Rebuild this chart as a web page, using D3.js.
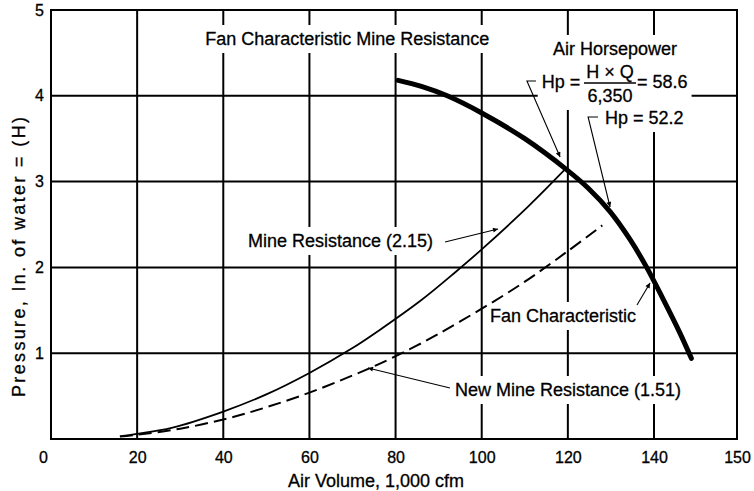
<!DOCTYPE html>
<html>
<head>
<meta charset="utf-8">
<script src="https://cdn.jsdelivr.net/npm/d3@7"></script>
<style>
  body { margin: 0; background: #fff; }
  svg text { font-family: "Liberation Sans", Arial, Helvetica, sans-serif; fill: #000; stroke: #000; stroke-width: 0.3px; }
</style>
</head>
<body>
<div class="chart"></div>
<script>
const width = 754;
const height = 491;

// air volume, 1,000 cfm / pressure, in. of water
const xTicks = [0, 20, 40, 60, 80, 100, 120, 140, 150];
const yTicks = [1, 2, 3, 4, 5];

const mineQ = [16, 20, 28, 40, 50, 60, 70, 76, 86, 94, 100, 111, 119.5];
const mineH = [0.03, 0.06, 0.13, 0.32, 0.52, 0.77, 1.06, 1.26, 1.62, 1.95, 2.21, 2.72, 3.15];

const newMineQ = [16, 20, 30, 41, 50, 60, 70, 76, 85, 95, 109, 120, 128];
const newMineH = [0.03, 0.05, 0.12, 0.24, 0.37, 0.54, 0.74, 0.87, 1.09, 1.37, 1.8, 2.19, 2.49];

const fanQ = [80.6, 86, 92, 100, 110, 119.7, 124.8, 129.8, 134.5, 138.3, 141.1, 143.1, 144.5];
const fanH = [4.18, 4.11, 4.0, 3.8, 3.5, 3.14, 2.92, 2.65, 2.32, 2.0, 1.63, 1.24, 0.94];

// labels, anchored in data units
const labels = [
  { text: "Fan Characteristic Mine Resistance", q: 35.8, h: 4.592 },
  { text: "Air Horsepower", q: 116.55, h: 4.476 },
  { text: "Hp = 52.2", q: 128.6, h: 3.671 },
  { text: "Mine Resistance (2.15)", q: 45.74, h: 2.238 },
  { text: "Fan Characteristic", q: 101.92, h: 1.364 },
  { text: "New Mine Resistance (1.51)", q: 93.8, h: 0.501 }
];

const leaders = [
  [[112.6, 4.172], [110.5, 4.172], [118.2, 3.287]],
  [[127.0, 3.753], [124.7, 3.753], [129.8, 2.704]],
  [[91.48, 2.296], [103.78, 2.448]],
  [[136.05, 1.562], [139.08, 1.818]],
  [[92.64, 0.594], [73.6, 0.828]]
];

// x axis is drawn squeezed past 140 in the original
const x = d3.scaleLinear().domain([0, 140, 150]).range([51, 654, 737]);
const y = d3.scaleLinear().domain([0, 5]).range([439, 10]);

const svg = d3.select("div.chart")
  .append("svg")
  .attr("width", width)
  .attr("height", height)
  .attr("viewBox", [0, 0, width, height]);

svg.append("defs").append("marker")
  .attr("id", "arrow")
  .attr("viewBox", "0 0 10 10")
  .attr("refX", 10).attr("refY", 5)
  .attr("markerUnits", "userSpaceOnUse")
  .attr("markerWidth", 10).attr("markerHeight", 5)
  .attr("orient", "auto")
  .append("path").attr("d", "M0,0L10,5L0,10z").attr("fill", "#000");

// grid
const grid = svg.append("g").attr("stroke", "#000").attr("stroke-width", 2);
grid.selectAll("line.v")
  .data(xTicks.filter(d => d > 0 && d < 150))
  .join("line").attr("class", "v")
  .attr("x1", d => x(d)).attr("x2", d => x(d))
  .attr("y1", y(5)).attr("y2", y(0));
grid.selectAll("line.h")
  .data(yTicks.filter(d => d < 5))
  .join("line").attr("class", "h")
  .attr("x1", x(0)).attr("x2", x(150))
  .attr("y1", d => y(d)).attr("y2", d => y(d));
grid.append("rect")
  .attr("x", x(0)).attr("y", y(5))
  .attr("width", x(150) - x(0)).attr("height", y(0) - y(5))
  .attr("fill", "none");

// axes
const xAxis = svg.append("g")
  .attr("transform", `translate(0,${y(0)})`)
  .call(d3.axisBottom(x).tickValues(xTicks).tickSize(0).tickPadding(13).tickFormat(d3.format("d")));
const yAxis = svg.append("g")
  .attr("transform", `translate(${x(0)},0)`)
  .call(d3.axisLeft(y).tickValues(yTicks).tickSize(0).tickPadding(7).tickFormat(d3.format("d")));
[xAxis, yAxis].forEach(a => {
  a.select(".domain").remove();
  a.selectAll("text").attr("font-size", 16).attr("font-family", null);
});
xAxis.selectAll(".tick").filter(d => d === 0).select("text").attr("dx", -8);

svg.append("text")
  .attr("x", 376).attr("y", 487)
  .attr("text-anchor", "middle")
  .attr("font-size", 18)
  .text("Air Volume, 1,000 cfm");

svg.append("text")
  .attr("transform", "translate(25,257) rotate(-90)")
  .attr("text-anchor", "middle")
  .attr("font-size", 18)
  .attr("textLength", 280)
  .attr("lengthAdjust", "spacing")
  .text("Pressure, In. of water = (H)");

// annotations: white backing so grid breaks around the text
const notes = svg.append("g");
const bgLayer = notes.append("g");
const textLayer = notes.append("g");

textLayer.selectAll("text.label")
  .data(labels)
  .join("text").attr("class", "label")
  .attr("x", d => x(d.q)).attr("y", d => y(d.h))
  .attr("font-size", 18)
  .text(d => d.text);

const formula = textLayer.append("g").attr("class", "formula");
formula.append("text").attr("x", x(113.93)).attr("y", y(4.091)).attr("font-size", 18).text("Hp =");
formula.append("text").attr("x", x(129.79)).attr("y", y(4.207)).attr("font-size", 18)
  .attr("text-anchor", "middle").text("H × Q");
formula.append("line")
  .attr("x1", x(123.75)).attr("x2", x(135.83))
  .attr("y1", y(4.149)).attr("y2", y(4.149))
  .attr("stroke", "#000").attr("stroke-width", 1.5);
formula.append("text").attr("x", x(129.79)).attr("y", y(3.928)).attr("font-size", 18)
  .attr("text-anchor", "middle").text("6,350");
formula.append("text").attr("x", x(136.06)).attr("y", y(4.091)).attr("font-size", 18).text("= 58.6");

const boxes = [];
textLayer.selectAll("text.label").each(function() { boxes.push(this.getBBox()); });
boxes.push(formula.node().getBBox());
bgLayer.selectAll("rect")
  .data(boxes)
  .join("rect")
  .attr("x", b => b.x - 4).attr("y", b => b.y - 4)
  .attr("width", b => b.width + 8).attr("height", b => b.height + 8)
  .attr("fill", "#fff");

// curves
const line = d3.line().curve(d3.curveCatmullRom.alpha(0.5)).x(d => x(d[0])).y(d => y(d[1]));
const curves = svg.append("g").attr("fill", "none").attr("stroke", "#000");
curves.append("path")
  .attr("d", line(d3.zip(newMineQ, newMineH)))
  .attr("stroke-width", 2)
  .attr("stroke-dasharray", "13,6");
curves.append("path")
  .attr("d", line(d3.zip(mineQ, mineH)))
  .attr("stroke-width", 1.8);
curves.append("path")
  .attr("d", line(d3.zip(fanQ, fanH)))
  .attr("stroke-width", 5)
  .attr("stroke-linecap", "round");

// leader arrows
const straight = d3.line().x(d => x(d[0])).y(d => y(d[1]));
svg.append("g")
  .selectAll("path")
  .data(leaders)
  .join("path")
  .attr("d", d => straight(d))
  .attr("fill", "none")
  .attr("stroke", "#000")
  .attr("stroke-width", 1.1)
  .attr("marker-end", "url(#arrow)");
</script>
</body>
</html>
